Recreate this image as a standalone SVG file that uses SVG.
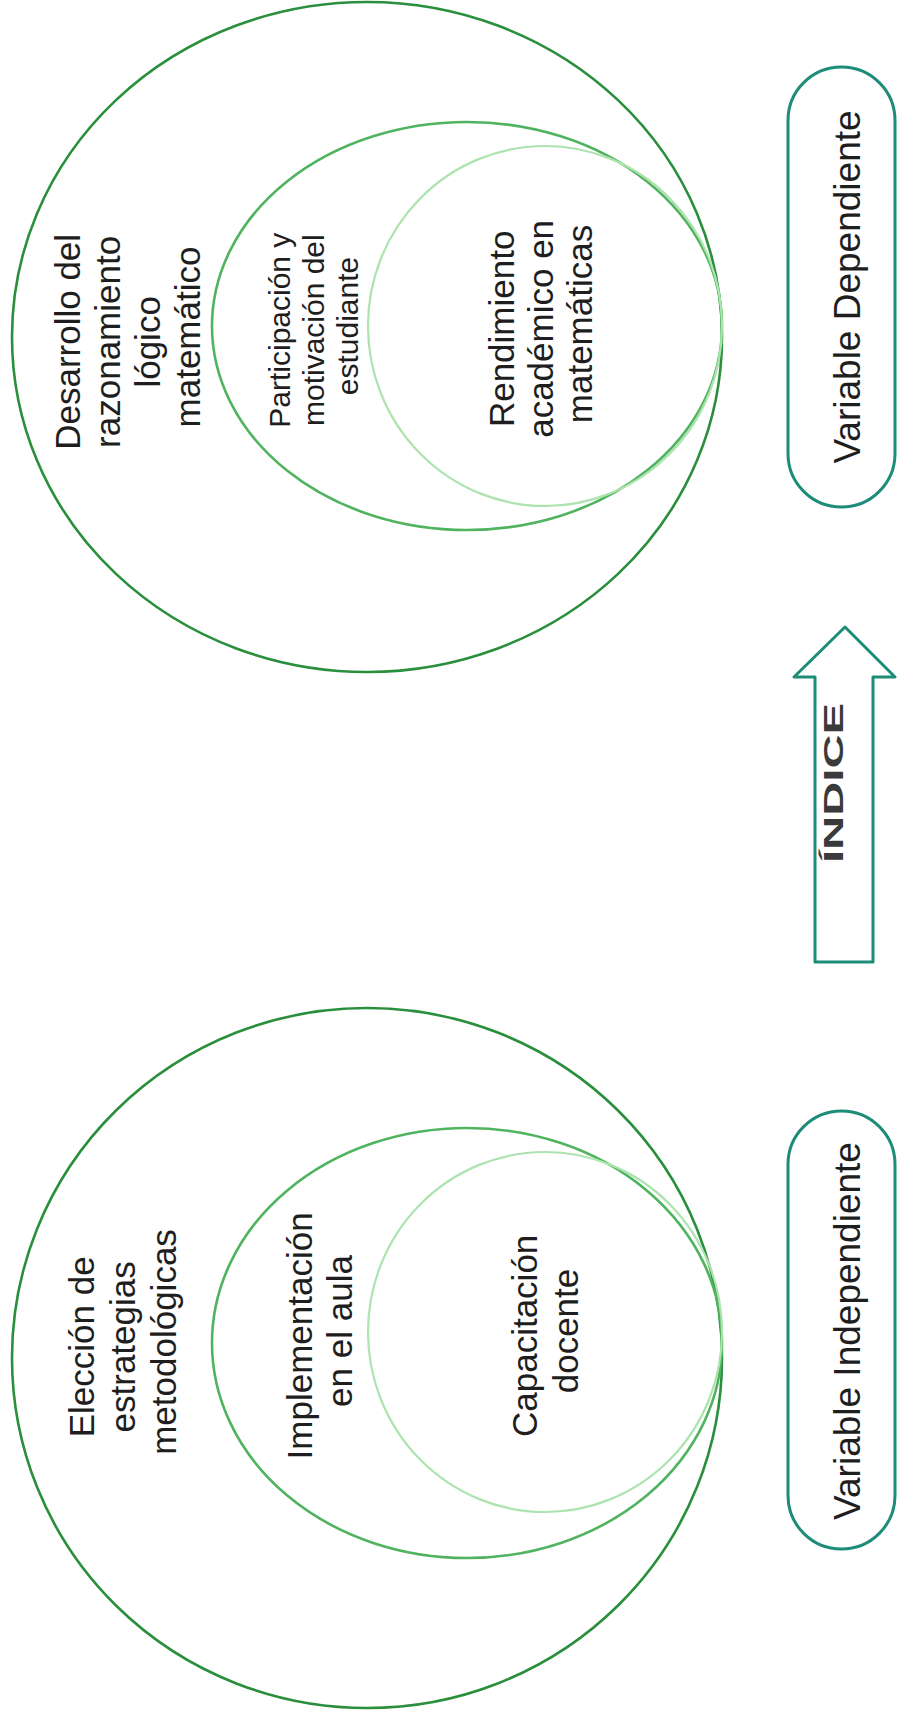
<svg xmlns="http://www.w3.org/2000/svg" width="898" height="1717" viewBox="0 0 898 1717">
  <style>
    .bg { fill: #ffffff; }
    .ring-outer { fill: none; stroke: #2a8f3c; stroke-width: 2.6; }
    .ring-mid { fill: none; stroke: #4fb35f; stroke-width: 2.6; }
    .ring-inner { fill: none; stroke: #ade3ae; stroke-width: 2.2; }
    .pill { fill: #ffffff; stroke: #1d8c78; stroke-width: 3; }
    .arrow { fill: #ffffff; stroke: #1d8c78; stroke-width: 3; stroke-linejoin: round; }
    .lbl { font-family: "Liberation Sans", Arial, sans-serif; fill: #1e1e1e; text-anchor: middle; }
    .big { font-size: 35px; }
    .small { font-size: 30px; }
    .tag { font-size: 37px; }
    .idx { font-family: "Liberation Sans", Arial, sans-serif; font-weight: bold; font-size: 28px; fill: #3a3a3a; text-anchor: middle; }
  </style>

  <rect class="bg" x="0" y="0" width="898" height="1717"/>

  <!-- Dependent variable: nested ellipses -->
  <g id="dep-outer">
    <ellipse class="ring-outer" cx="367" cy="337" rx="355" ry="335"/>
    <text class="lbl big" transform="translate(0,337) rotate(-90)">
      <tspan x="0" y="80">Desarrollo del</tspan>
      <tspan x="0" y="120">razonamiento</tspan>
      <tspan x="0" y="160">lógico</tspan>
      <tspan x="0" y="200">matemático</tspan>
    </text>
  </g>
  <g id="dep-mid">
    <ellipse class="ring-mid" cx="467" cy="326" rx="255" ry="204"/>
    <text class="lbl small" transform="translate(0,326) rotate(-90)">
      <tspan x="0" y="290">Participación y</tspan>
      <tspan x="0" y="324">motivación del</tspan>
      <tspan x="0" y="358">estudiante</tspan>
    </text>
  </g>
  <g id="dep-inner">
    <ellipse class="ring-inner" cx="545" cy="326" rx="177" ry="180"/>
    <text class="lbl big" transform="translate(0,324) rotate(-90)">
      <tspan x="0" y="514">Rendimiento</tspan>
      <tspan x="0" y="553">académico en</tspan>
      <tspan x="0" y="592">matemáticas</tspan>
    </text>
  </g>

  <!-- Independent variable: nested ellipses -->
  <g id="ind-outer">
    <ellipse class="ring-outer" cx="367" cy="1358" rx="355" ry="350"/>
    <text class="lbl big" transform="translate(0,1342) rotate(-90)">
      <tspan x="0" y="94">Elección de</tspan>
      <tspan x="0" y="135">estrategias</tspan>
      <tspan x="0" y="176">metodológicas</tspan>
    </text>
  </g>
  <g id="ind-mid">
    <ellipse class="ring-mid" cx="467" cy="1343" rx="255" ry="215"/>
    <text class="lbl big" transform="translate(0,1331) rotate(-90)">
      <tspan x="0" y="312">Implementación</tspan>
      <tspan x="0" y="352">en el aula</tspan>
    </text>
  </g>
  <g id="ind-inner">
    <ellipse class="ring-inner" cx="545" cy="1332" rx="177" ry="180"/>
    <text class="lbl big" transform="translate(0,1331) rotate(-90)">
      <tspan x="0" y="537">Capacitación</tspan>
      <tspan x="0" y="578">docente</tspan>
    </text>
  </g>

  <!-- Side tags -->
  <g id="tag-dep">
    <rect class="pill" x="788" y="67" width="107" height="440" rx="53.5"/>
    <text class="lbl tag" transform="translate(0,287) rotate(-90)" x="0" y="860">Variable Dependiente</text>
  </g>
  <g id="tag-ind">
    <rect class="pill" x="788" y="1111" width="107" height="438" rx="53.5"/>
    <text class="lbl tag" transform="translate(0,1331) rotate(-90)" x="0" y="860">Variable Independiente</text>
  </g>

  <!-- Link between the two variables -->
  <g id="connectors">
    <g id="indice-arrow">
      <path class="arrow" d="M845,627 L895,677 L873,677 L873,962 L815,962 L815,677 L794,677 Z"/>
      <text class="idx" transform="translate(0,783) rotate(-90)" x="0" y="843" textLength="160" lengthAdjust="spacingAndGlyphs">ÍNDICE</text>
    </g>
  </g>
</svg>
